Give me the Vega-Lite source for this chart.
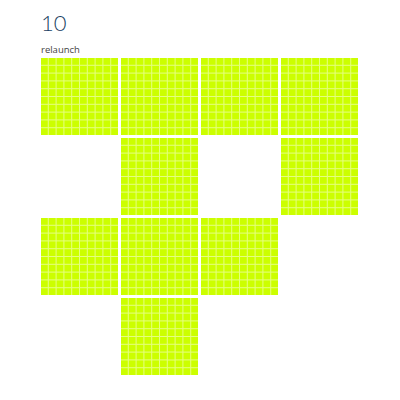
{
  "$schema": "https://vega.github.io/schema/vega-lite/v6.json",
  "autosize": "none",
  "padding": {"left": 41, "top": 58, "right": 42, "bottom": 25},
  "width": 317,
  "height": 317,
  "title": {
    "text": "10",
    "subtitle": "\u00a0\u00a0relaunch",
    "anchor": "start",
    "frame": "group",
    "font": "Lato",
    "fontSize": 22,
    "fontWeight": 300,
    "color": "#1b3f63",
    "subtitleFont": "Open Sans",
    "subtitleFontSize": 9.5,
    "subtitleColor": "#444444",
    "subtitlePadding": 9,
    "offset": 3
  },
  "datasets": {
    "blocks": [
      {"k": 1, "c": 0, "r": 0},
      {"k": 1, "c": 1, "r": 0},
      {"k": 1, "c": 2, "r": 0},
      {"k": 1, "c": 3, "r": 0},
      {"k": 1, "c": 1, "r": 1},
      {"k": 1, "c": 3, "r": 1},
      {"k": 1, "c": 0, "r": 2},
      {"k": 1, "c": 1, "r": 2},
      {"k": 1, "c": 2, "r": 2},
      {"k": 1, "c": 1, "r": 3}
    ],
    "grid": [
      {
        "k": 1,
        "cx": [0,1,2,3,4,5,6,7,8,9,0,1,2,3,4,5,6,7,8,9,0,1,2,3,4,5,6,7,8,9,0,1,2,3,4,5,6,7,8,9,0,1,2,3,4,5,6,7,8,9,0,1,2,3,4,5,6,7,8,9,0,1,2,3,4,5,6,7,8,9,0,1,2,3,4,5,6,7,8,9,0,1,2,3,4,5,6,7,8,9,0,1,2,3,4,5,6,7,8,9],
        "cy": [0,0,0,0,0,0,0,0,0,0,1,1,1,1,1,1,1,1,1,1,2,2,2,2,2,2,2,2,2,2,3,3,3,3,3,3,3,3,3,3,4,4,4,4,4,4,4,4,4,4,5,5,5,5,5,5,5,5,5,5,6,6,6,6,6,6,6,6,6,6,7,7,7,7,7,7,7,7,7,7,8,8,8,8,8,8,8,8,8,8,9,9,9,9,9,9,9,9,9,9]
      }
    ]
  },
  "layer": [
    {
      "data": {"name": "blocks"},
      "mark": {"type": "rect", "color": "#ccff00", "opacity": 0.5},
      "encoding": {
        "x": {"field": "c", "type": "ordinal", "scale": {"domain": [0, 1, 2, 3], "paddingInner": 0.0375, "paddingOuter": 0}, "axis": null},
        "y": {"field": "r", "type": "ordinal", "scale": {"domain": [0, 1, 2, 3], "paddingInner": 0.0375, "paddingOuter": 0}, "axis": null}
      }
    },
    {
      "data": {"name": "blocks"},
      "transform": [
        {"lookup": "k", "from": {"data": {"name": "grid"}, "key": "k", "fields": ["cx", "cy"]}},
        {"flatten": ["cx", "cy"]}
      ],
      "mark": {"type": "rect", "color": "#ccff00"},
      "encoding": {
        "x": {"field": "c", "type": "ordinal", "axis": null},
        "xOffset": {"field": "cx", "type": "ordinal", "scale": {"domain": [0,1,2,3,4,5,6,7,8,9], "paddingInner": 0.13, "paddingOuter": 0}},
        "y": {"field": "r", "type": "ordinal", "axis": null},
        "yOffset": {"field": "cy", "type": "ordinal", "scale": {"domain": [0,1,2,3,4,5,6,7,8,9], "paddingInner": 0.13, "paddingOuter": 0}}
      }
    }
  ],
  "config": {"view": {"stroke": null}}
}
